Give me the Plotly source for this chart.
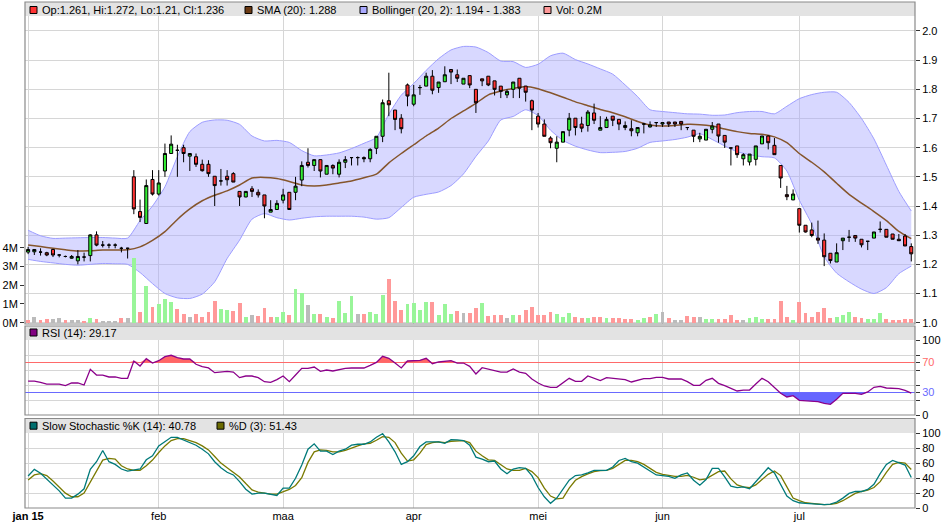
"""Candlestick chart with SMA, Bollinger band, volume, RSI and slow stochastic."""

from plotly import graph_objects as go

# Month starts (trading day index) and labels.
month_idx = [0, 21, 41, 62, 82, 102, 124]
month_lbl = ["<b>jan 15</b>", "feb", "maa", "apr", "mei", "jun", "jul"]

# Daily prices, one per trading day.
opens = [1.242, 1.243, 1.242, 1.24, 1.251, 1.232, 1.227, 1.221, 1.212, 1.225,
         1.23, 1.301, 1.266, 1.266, 1.266, 1.255, 1.255, 1.50, 1.381, 1.34,
         1.491, 1.441, 1.52, 1.58, 1.591, 1.60, 1.571, 1.569, 1.543, 1.543,
         1.502, 1.486, 1.502, 1.511, 1.45, 1.431, 1.459, 1.447, 1.438, 1.379,
         1.388, 1.42, 1.447, 1.447, 1.489, 1.55, 1.539, 1.559, 1.509, 1.539,
         1.509, 1.55, 1.566, 1.566, 1.566, 1.562, 1.598, 1.639, 1.761, 1.729,
         1.701, 1.815, 1.749, 1.806, 1.811, 1.845, 1.806, 1.826, 1.868, 1.85,
         1.818, 1.847, 1.80, 1.836, 1.845, 1.829, 1.811, 1.781, 1.80, 1.838,
         1.811, 1.761, 1.708, 1.681, 1.633, 1.598, 1.619, 1.66, 1.701, 1.681,
         1.676, 1.719, 1.66, 1.669, 1.708, 1.697, 1.669, 1.665, 1.651, 1.681,
         1.671, 1.686, 1.681, 1.688, 1.688, 1.69, 1.669, 1.66, 1.63, 1.626,
         1.663, 1.681, 1.642, 1.599, 1.606, 1.562, 1.551, 1.56, 1.613, 1.64,
         1.608, 1.539, 1.439, 1.421, 1.391, 1.334, 1.318, 1.29, 1.283, 1.238,
         1.208, 1.281, 1.293, 1.299, 1.286, 1.279, 1.29, 1.32, 1.32, 1.304,
         1.286, 1.297, 1.261]
highs = [1.26, 1.252, 1.255, 1.243, 1.253, 1.235, 1.23, 1.232, 1.249, 1.24,
         1.303, 1.313, 1.28, 1.272, 1.272, 1.26, 1.257, 1.523, 1.422, 1.491,
         1.523, 1.523, 1.614, 1.642, 1.61, 1.61, 1.58, 1.58, 1.559, 1.557,
         1.502, 1.527, 1.523, 1.516, 1.45, 1.45, 1.468, 1.457, 1.438, 1.42,
         1.42, 1.459, 1.447, 1.50, 1.553, 1.598, 1.559, 1.56, 1.54, 1.543,
         1.56, 1.571, 1.566, 1.57, 1.57, 1.598, 1.639, 1.765, 1.857, 1.729,
         1.715, 1.82, 1.815, 1.815, 1.857, 1.866, 1.825, 1.879, 1.868, 1.868,
         1.838, 1.847, 1.80, 1.836, 1.845, 1.829, 1.811, 1.80, 1.825, 1.838,
         1.811, 1.765, 1.719, 1.697, 1.639, 1.639, 1.655, 1.719, 1.701, 1.706,
         1.729, 1.751, 1.708, 1.706, 1.708, 1.697, 1.69, 1.694, 1.669, 1.685,
         1.69, 1.686, 1.688, 1.688, 1.688, 1.69, 1.669, 1.66, 1.651, 1.663,
         1.688, 1.681, 1.642, 1.599, 1.606, 1.581, 1.578, 1.606, 1.64, 1.642,
         1.633, 1.539, 1.469, 1.457, 1.391, 1.334, 1.343, 1.35, 1.306, 1.238,
         1.272, 1.29, 1.318, 1.299, 1.286, 1.279, 1.311, 1.347, 1.32, 1.304,
         1.304, 1.304, 1.272]
lows = [1.235, 1.232, 1.23, 1.228, 1.225, 1.224, 1.224, 1.219, 1.20, 1.21,
        1.21, 1.262, 1.258, 1.255, 1.255, 1.241, 1.22, 1.372, 1.345, 1.34,
        1.436, 1.436, 1.50, 1.58, 1.50, 1.55, 1.52, 1.534, 1.518, 1.50,
        1.40, 1.47, 1.47, 1.482, 1.40, 1.43, 1.431, 1.429, 1.358, 1.379,
        1.388, 1.409, 1.388, 1.42, 1.468, 1.532, 1.52, 1.498, 1.509, 1.509,
        1.498, 1.53, 1.539, 1.539, 1.55, 1.55, 1.578, 1.619, 1.708, 1.66,
        1.649, 1.742, 1.742, 1.781, 1.811, 1.783, 1.788, 1.826, 1.818, 1.825,
        1.818, 1.804, 1.719, 1.811, 1.811, 1.779, 1.77, 1.77, 1.77, 1.77,
        1.758, 1.66, 1.669, 1.639, 1.598, 1.55, 1.619, 1.639, 1.642, 1.653,
        1.655, 1.681, 1.66, 1.669, 1.674, 1.66, 1.66, 1.639, 1.639, 1.649,
        1.669, 1.671, 1.671, 1.671, 1.671, 1.66, 1.66, 1.619, 1.619, 1.626,
        1.649, 1.617, 1.599, 1.539, 1.565, 1.539, 1.539, 1.539, 1.613, 1.594,
        1.576, 1.462, 1.42, 1.42, 1.309, 1.309, 1.293, 1.27, 1.194, 1.203,
        1.208, 1.249, 1.277, 1.277, 1.258, 1.249, 1.29, 1.309, 1.293, 1.286,
        1.281, 1.263, 1.21]
closes = [1.251, 1.251, 1.242, 1.232, 1.232, 1.232, 1.227, 1.227, 1.227, 1.225,
          1.301, 1.266, 1.266, 1.266, 1.266, 1.255, 1.255, 1.39, 1.361, 1.47,
          1.441, 1.479, 1.58, 1.612, 1.591, 1.58, 1.58, 1.543, 1.521, 1.511,
          1.47, 1.486, 1.49, 1.482, 1.431, 1.45, 1.45, 1.438, 1.40, 1.388,
          1.409, 1.438, 1.388, 1.468, 1.539, 1.539, 1.559, 1.52, 1.539, 1.53,
          1.55, 1.559, 1.566, 1.566, 1.562, 1.594, 1.639, 1.754, 1.747, 1.697,
          1.665, 1.777, 1.781, 1.806, 1.845, 1.797, 1.825, 1.85, 1.859, 1.838,
          1.838, 1.815, 1.754, 1.829, 1.815, 1.80, 1.793, 1.793, 1.825, 1.804,
          1.79, 1.729, 1.681, 1.639, 1.617, 1.619, 1.655, 1.701, 1.669, 1.667,
          1.722, 1.694, 1.669, 1.697, 1.694, 1.681, 1.676, 1.658, 1.669, 1.681,
          1.678, 1.686, 1.686, 1.681, 1.681, 1.681, 1.669, 1.639, 1.639, 1.663,
          1.674, 1.64, 1.619, 1.599, 1.576, 1.576, 1.578, 1.606, 1.64, 1.617,
          1.576, 1.496, 1.432, 1.441, 1.334, 1.311, 1.299, 1.283, 1.226, 1.213,
          1.24, 1.29, 1.293, 1.29, 1.267, 1.279, 1.311, 1.32, 1.293, 1.286,
          1.281, 1.263, 1.236]
close_before = 1.255

# Volume in millions.
volume = [0.14, 0.30, 0.14, 0.20, 0.20, 0.25, 0.14, 0.14, 0.14, 0.09,
          0.25, 0.20, 0.09, 0.09, 0.09, 0.25, 0.25, 3.45, 0.57, 1.96,
          0.84, 1.0, 1.26, 1.10, 0.73, 0.46, 0.30, 0.46, 0.30, 0.57,
          1.16, 0.73, 0.68, 0.62, 1.05, 0.30, 0.41, 0.36, 0.78, 0.30,
          0.30, 0.57, 0.41, 1.80, 1.58, 0.94, 0.46, 0.46, 0.30, 0.25,
          1.16, 0.52, 1.42, 0.46, 0.46, 0.57, 0.46, 1.48, 2.33, 1.16,
          0.68, 1.0, 1.05, 0.68, 1.10, 1.10, 0.41, 1.0, 0.46, 0.62,
          0.52, 0.52, 0.78, 1.03, 0.36, 0.41, 0.41, 0.25, 0.41, 0.41,
          0.68, 0.84, 0.41, 0.41, 0.57, 0.46, 0.30, 0.52, 0.30, 0.25,
          0.25, 0.30, 0.30, 0.25, 0.25, 0.25, 0.20, 0.20, 0.14, 0.25,
          0.30, 0.46, 0.57, 0.25, 0.14, 0.14, 0.36, 0.30, 0.30, 0.20,
          0.20, 0.20, 0.20, 0.41, 0.14, 0.14, 0.25, 0.30, 0.20, 0.20,
          0.20, 1.16, 0.30, 0.14, 1.10, 0.52, 0.30, 0.57, 0.78, 0.25,
          0.30, 0.41, 0.57, 0.30, 0.25, 0.20, 0.20, 0.52, 0.20, 0.14,
          0.14, 0.20, 0.2]

# SMA (20) and Bollinger (20, 2), read every second trading day.
band_idx = list(range(0, 143, 2))
sma = [1.266, 1.261, 1.255, 1.25, 1.246, 1.247, 1.249, 1.249, 1.25, 1.26,
       1.282, 1.312, 1.354, 1.39, 1.418, 1.437, 1.452, 1.472, 1.496, 1.498,
       1.494, 1.484, 1.472, 1.469, 1.472, 1.479, 1.486, 1.497, 1.509, 1.548,
       1.58, 1.61, 1.64, 1.667, 1.70, 1.726, 1.752, 1.781, 1.794, 1.803,
       1.81, 1.802, 1.788, 1.773, 1.757, 1.744, 1.731, 1.72, 1.706, 1.69,
       1.678, 1.674, 1.676, 1.68, 1.679, 1.674, 1.664, 1.655, 1.649, 1.646,
       1.637, 1.617, 1.58, 1.55, 1.517, 1.478, 1.44, 1.41, 1.381, 1.35,
       1.313, 1.288]
bb_upper = [1.317, 1.298, 1.289, 1.29, 1.291, 1.292, 1.292, 1.29, 1.29, 1.35,
            1.40, 1.466, 1.569, 1.655, 1.687, 1.695, 1.694, 1.68, 1.64, 1.623,
            1.625, 1.618, 1.59, 1.572, 1.575, 1.582, 1.597, 1.615, 1.635, 1.715,
            1.78, 1.82, 1.865, 1.905, 1.935, 1.947, 1.945, 1.926, 1.897, 1.895,
            1.875, 1.886, 1.915, 1.924, 1.902, 1.887, 1.87, 1.852, 1.815, 1.775,
            1.73, 1.724, 1.72, 1.716, 1.715, 1.711, 1.712, 1.72, 1.724, 1.724,
            1.716, 1.742, 1.768, 1.782, 1.79, 1.79, 1.755, 1.70, 1.63, 1.54,
            1.45, 1.383]
bb_lower = [1.217, 1.21, 1.205, 1.2, 1.197, 1.2, 1.203, 1.202, 1.2, 1.172,
            1.134, 1.10, 1.085, 1.083, 1.098, 1.14, 1.22, 1.283, 1.355, 1.374,
            1.36, 1.352, 1.358, 1.363, 1.365, 1.365, 1.365, 1.362, 1.355, 1.36,
            1.395, 1.43, 1.44, 1.448, 1.47, 1.51, 1.57, 1.623, 1.695, 1.707,
            1.73, 1.71, 1.66, 1.625, 1.605, 1.592, 1.583, 1.584, 1.587, 1.598,
            1.618, 1.623, 1.628, 1.636, 1.648, 1.628, 1.606, 1.586, 1.576, 1.569,
            1.565, 1.52, 1.42, 1.338, 1.226, 1.17, 1.14, 1.115, 1.10, 1.12,
            1.168, 1.194]

# RSI (14).
rsi = [45.3, 45.3, 43.6, 41.3, 41.3, 41.3, 39.1, 42.7, 42.7, 40.0,
       60.9, 53.3, 53.3, 50.7, 50.7, 48.9, 48.9, 72.0, 65.3, 75.1,
       69.3, 72.4, 77.8, 79.6, 76.4, 74.7, 74.7, 67.6, 64.4, 62.7,
       56.4, 57.3, 58.2, 57.3, 49.8, 52.0, 52.0, 49.8, 44.4, 43.6,
       47.1, 52.0, 44.4, 53.3, 62.2, 62.2, 64.0, 58.2, 60.0, 58.7,
       60.9, 62.2, 62.7, 62.2, 62.7, 66.2, 70.2, 78.2, 75.6, 69.3,
       62.7, 72.0, 72.0, 72.9, 75.6, 68.4, 70.7, 71.6, 72.4, 69.3,
       69.3, 64.9, 54.7, 63.1, 61.3, 59.6, 57.3, 57.3, 61.3, 57.3,
       55.6, 48.0, 42.7, 38.7, 36.9, 36.9, 42.7, 48.9, 44.9, 44.9,
       52.0, 48.9, 45.8, 49.8, 48.9, 47.1, 47.1, 44.0, 46.7, 48.4,
       48.4, 50.2, 50.2, 48.0, 48.0, 48.0, 44.4, 39.6, 39.6, 46.2,
       48.9, 42.2, 39.1, 36.0, 32.0, 33.3, 33.3, 41.3, 48.9, 44.4,
       36.4, 28.9, 24.0, 25.8, 19.6, 19.1, 18.7, 17.8, 15.6, 14.2,
       20.9, 28.9, 28.9, 28.9, 27.6, 30.7, 36.9, 38.2, 36.0, 35.6,
       35.1, 32.9, 29.17]

# Slow stochastic %K (14) and %D (3).
stoch_k = [42.7, 51.5, 46.3, 38.8, 30.8, 22.9, 13.2, 13.2, 18.5, 25.6,
           51.5, 61.7, 76.7, 61.7, 58.1, 52.0, 49.3, 50.2, 52.0, 64.3,
           69.6, 82.8, 88.1, 94.3, 94.3, 90.7, 87.2, 83.7, 78.4, 72.2,
           61.7, 53.7, 47.6, 44.1, 35.2, 25.1, 18.5, 19.8, 19.8, 18.5,
           16.7, 26.4, 26.4, 39.6, 57.3, 78.4, 85.5, 75.8, 75.8, 71.4,
           75.8, 78.4, 83.7, 85.0, 85.0, 88.1, 94.3, 99.1, 88.1, 74.9,
           58.1, 61.7, 69.6, 81.9, 88.1, 88.1, 88.1, 86.3, 91.2, 90.7,
           89.9, 83.7, 67.8, 65.2, 61.7, 62.6, 52.0, 45.8, 52.0, 53.7,
           52.9, 43.2, 27.3, 15.0, 6.2, 13.2, 24.7, 37.0, 43.2, 44.1,
           46.7, 50.2, 50.2, 50.2, 54.6, 63.4, 66.1, 61.7, 59.9, 54.6,
           48.5, 44.1, 43.2, 42.3, 39.6, 44.1, 46.7, 37.0, 30.4, 37.9,
           52.9, 52.9, 41.4, 29.1, 27.3, 28.2, 25.6, 35.2, 44.9, 53.7,
           46.7, 30.8, 15.9, 9.7, 7.0, 6.2, 5.3, 4.4, 4.4, 5.3,
           7.9, 13.2, 19.4, 22.0, 22.0, 24.7, 31.7, 45.8, 58.1, 63.4,
           60.8, 57.3, 40.78]
stoch_d = [37.4, 44.1, 45.8, 43.2, 36.1, 28.6, 19.8, 15.0, 15.0, 19.8,
           35.2, 48.5, 63.9, 66.1, 65.2, 56.4, 52.0, 50.2, 50.2, 56.4,
           63.9, 74.0, 82.8, 89.9, 92.5, 92.5, 90.3, 87.2, 82.8, 77.5,
           68.7, 59.9, 53.7, 47.6, 41.4, 32.6, 24.2, 21.1, 19.4, 18.5,
           18.5, 21.1, 24.7, 30.0, 40.5, 60.8, 74.9, 77.5, 76.7, 74.9,
           74.9, 76.7, 80.2, 82.8, 85.5, 86.3, 90.3, 95.2, 94.3, 87.2,
           73.1, 62.6, 64.3, 73.1, 84.6, 87.2, 88.1, 87.2, 89.0, 89.9,
           89.9, 87.2, 75.8, 69.6, 64.3, 63.4, 58.1, 52.0, 50.2, 50.2,
           52.9, 48.5, 40.5, 26.4, 15.9, 12.3, 13.2, 26.4, 37.0, 41.9,
           45.4, 48.5, 49.8, 50.2, 52.9, 58.1, 63.4, 63.4, 61.7, 58.1,
           52.9, 47.6, 44.9, 43.2, 42.3, 42.3, 43.6, 41.0, 37.4, 38.8,
           43.2, 48.5, 49.3, 38.8, 30.8, 28.2, 27.3, 30.8, 37.9, 44.9,
           49.3, 43.2, 28.2, 13.2, 9.7, 7.0, 6.2, 5.3, 4.4, 4.8,
           6.2, 9.7, 15.0, 19.4, 22.0, 23.8, 27.3, 35.2, 47.6, 58.1,
           60.8, 59.9, 51.43]

days = list(range(len(closes)))

# Page geometry in pixels.
W, H = 945, 526
L, R, T, B = 25, 30, 2, 18


def fx(x):
    """Pixel column to paper fraction."""
    return (x - L) / (W - L - R)


def fy(y):
    """Pixel row to paper fraction."""
    return (H - B - y) / (H - T - B)


FONT = "Liberation Sans, Arial, sans-serif"
GRID = "#d6d6d6"
FRAME = "#8a8a8a"
PRICE_RANGE = [0.9955, 2.0514]

# Volume colours follow the change of the close.
vol_colors = []
prev = close_before
for c in closes:
    d = round(c - prev, 4)
    vol_colors.append("#99f599" if d > 0 else "#ff9999" if d < 0 else "#bbbbbb")
    prev = c

fig = go.Figure()

# Bollinger band and SMA on the base price axis (drawn first).
fig.add_trace(go.Scatter(
    x=band_idx, y=bb_upper, mode="lines", xaxis="x", yaxis="y",
    line=dict(color="#9d9dff", width=1, shape="spline", smoothing=0.6),
))
fig.add_trace(go.Scatter(
    x=band_idx, y=bb_lower, mode="lines", xaxis="x", yaxis="y",
    line=dict(color="#9d9dff", width=1, shape="spline", smoothing=0.6),
    fill="tonexty", fillcolor="rgba(168,168,255,0.45)",
))
fig.add_trace(go.Scatter(
    x=band_idx, y=sma, mode="lines", xaxis="x", yaxis="y",
    line=dict(color="#85552c", width=1.5, shape="spline", smoothing=0.6),
))

# Volume (left axis, overlay).
fig.add_trace(go.Bar(
    x=days, y=[v * 1e6 for v in volume], marker_color=vol_colors,
    marker_line_width=0, width=0.62, xaxis="x", yaxis="y5",
))

# Candles on a second price overlay so they sit on top.
fig.add_trace(go.Candlestick(
    x=days, open=opens, high=highs, low=lows, close=closes,
    xaxis="x", yaxis="y6", whiskerwidth=0,
    increasing=dict(line=dict(color="black", width=1), fillcolor="#33ee33"),
    decreasing=dict(line=dict(color="black", width=1), fillcolor="#ff3333"),
))

# RSI panel: fills beyond 70 and 30, guide lines, then the line itself.
fig.add_trace(go.Scatter(x=days, y=[70] * len(days), mode="lines",
                         line=dict(width=0), xaxis="x2", yaxis="y3"))
fig.add_trace(go.Scatter(x=days, y=[max(r, 70) for r in rsi], mode="lines",
                         line=dict(width=0), fill="tonexty", fillcolor="#ff6666",
                         xaxis="x2", yaxis="y3"))
fig.add_trace(go.Scatter(x=days, y=[30] * len(days), mode="lines",
                         line=dict(width=0), xaxis="x2", yaxis="y3"))
fig.add_trace(go.Scatter(x=days, y=[min(r, 30) for r in rsi], mode="lines",
                         line=dict(width=0), fill="tonexty", fillcolor="#6666ff",
                         xaxis="x2", yaxis="y3"))
fig.add_trace(go.Scatter(x=[-0.5, 142.6], y=[70, 70], mode="lines",
                         line=dict(color="#ff6a6a", width=1.2), xaxis="x2", yaxis="y3"))
fig.add_trace(go.Scatter(x=[-0.5, 142.6], y=[30, 30], mode="lines",
                         line=dict(color="#6a6aff", width=1.2), xaxis="x2", yaxis="y3"))
fig.add_trace(go.Scatter(x=days, y=rsi, mode="lines",
                         line=dict(color="#8b008b", width=1.3), xaxis="x2", yaxis="y3"))

# Stochastic panel.
fig.add_trace(go.Scatter(x=days, y=stoch_d, mode="lines",
                         line=dict(color="#7a7a00", width=1.3), xaxis="x3", yaxis="y4"))
fig.add_trace(go.Scatter(x=days, y=stoch_k, mode="lines",
                         line=dict(color="#007a7a", width=1.3), xaxis="x3", yaxis="y4"))

main_dom = [fy(324), fy(16)]
rsi_dom = [fy(415), fy(340)]
sto_dom = [fy(508), fy(433)]

x_common = dict(range=[-0.5, 142.6], tickvals=month_idx, ticktext=month_lbl,
                showgrid=True, gridcolor=GRID, gridwidth=1, zeroline=False,
                ticks="", showline=False, automargin=False,
                tickfont=dict(size=11, color="black"))
y_common = dict(showgrid=True, gridcolor=GRID, gridwidth=1, zeroline=False,
                ticks="outside", ticklen=4, tickcolor="#333333", showline=False,
                automargin=False, tickfont=dict(size=11, color="black"))

price_ticks = [round(1.0 + 0.1 * k, 1) for k in range(11)]
vol_ticks = [0, 1, 2, 3, 4]

fig.update_layout(
    width=W, height=H,
    margin=dict(l=L, r=R, t=T, b=B, pad=0, autoexpand=False),
    paper_bgcolor="white", plot_bgcolor="white",
    font=dict(family=FONT, size=11, color="black"),
    showlegend=False, hovermode=False, bargap=0,
    xaxis=dict(domain=[0, 1], anchor="y", showticklabels=False, **x_common),
    xaxis2=dict(domain=[0, 1], anchor="y3", matches="x", showticklabels=False, **x_common),
    xaxis3=dict(domain=[0, 1], anchor="y4", matches="x", showticklabels=True, **x_common),
    yaxis=dict(domain=main_dom, side="right", anchor="x", range=PRICE_RANGE,
               tickvals=price_ticks, ticktext=[f"{v:.1f}" for v in price_ticks],
               **y_common),
    yaxis5=dict(overlaying="y", side="left", anchor="x",
                range=[-0.069e6, 16.36e6],
                tickvals=[v * 1e6 for v in vol_ticks],
                ticktext=[f"{v}M" for v in vol_ticks],
                **{**y_common, "showgrid": False}),
    yaxis6=dict(overlaying="y", side="right", anchor="x", range=PRICE_RANGE,
                showgrid=False, showticklabels=False, ticks="", zeroline=False,
                automargin=False),
    yaxis3=dict(domain=rsi_dom, side="right", anchor="x2", range=[0, 100],
                tickvals=[0, 20, 30, 40, 60, 70, 80, 100],
                ticktext=["0", "", "<span style='color:#6a6aff'>30</span>", "", "",
                          "<span style='color:#ff6a6a'>70</span>", "", "100"],
                **y_common),
    yaxis4=dict(domain=sto_dom, side="right", anchor="x3", range=[0, 100],
                tickvals=[0, 20, 40, 60, 80, 100], **y_common),
    xaxis_rangeslider_visible=False,
)

shapes = []
annotations = []

# Legend bars and panel frames.
for top, bar_bottom, bottom in [(2, 16, 324), (326, 340, 415), (418.5, 433, 508)]:
    shapes.append(dict(type="rect", xref="paper", yref="paper",
                       x0=0, x1=1, y0=fy(bar_bottom), y1=fy(top),
                       fillcolor="#e3e3e3", line=dict(width=0), layer="above"))
    shapes.append(dict(type="rect", xref="paper", yref="paper",
                       x0=0, x1=1, y0=fy(bottom), y1=fy(top),
                       fillcolor="rgba(0,0,0,0)", line=dict(color=FRAME, width=1.2),
                       layer="above"))


def legend_item(x, y, color, text):
    """Small coloured square followed by the legend text."""
    shapes.append(dict(type="rect", xref="paper", yref="paper",
                       x0=fx(x), x1=fx(x + 7), y0=fy(y + 3.5), y1=fy(y - 3.5),
                       fillcolor=color, line=dict(color="black", width=1),
                       layer="above"))
    annotations.append(dict(x=fx(x + 10), y=fy(y), xref="paper", yref="paper",
                            text=text, showarrow=False, xanchor="left",
                            yanchor="middle", font=dict(size=11, color="black")))


legend_item(30, 10, "#ff3333",
            f"Op:{opens[-1]}, Hi:{highs[-1]}, Lo:{lows[-1]}, Cl:{closes[-1]}")
legend_item(245, 10, "#6b3a14", f"SMA (20): {sma[-1]}")
legend_item(360, 10, "#aaaaff", f"Bollinger (20, 2): {bb_lower[-1]} - {bb_upper[-1]}")
legend_item(544, 10, "#ff9999", f"Vol: {volume[-1]}M")
legend_item(30, 332.5, "#800080", f"RSI (14): {rsi[-1]}")
legend_item(30, 425.7, "#006e6e", f"Slow Stochastic %K (14): {stoch_k[-1]}")
legend_item(217, 425.7, "#6b6b00", f"%D (3): {stoch_d[-1]}")

fig.update_layout(shapes=shapes, annotations=annotations)

# The page body keeps its default 8px margin otherwise.
fig.write_html("out.html",
               config={"displayModeBar": False},
               post_script="document.body.style.margin='0px';")
